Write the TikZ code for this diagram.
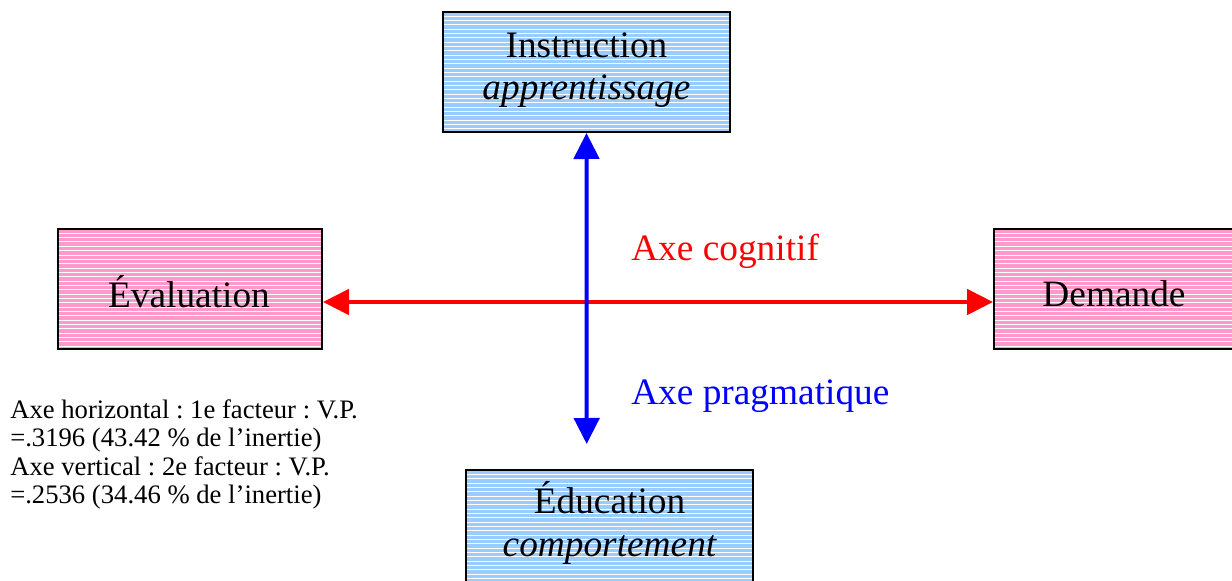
\documentclass[tikz,border=0pt]{standalone}
\usepackage{fontspec}
\setmainfont{Liberation Serif}
\usetikzlibrary{arrows.meta}
\definecolor{boxpink}{HTML}{FF99CC}
\definecolor{boxblue}{HTML}{99CCFF}
\frenchspacing
\begin{document}
\begin{tikzpicture}[x=0.75pt,y=-0.75pt,
  striped/.style={draw=black,line width=1.5pt,inner sep=0pt,
    path picture={\foreach \k in {1,...,40}{\draw[white,line width=0.75pt]
      ([yshift=-\k*3.25pt]path picture bounding box.north west) --
      ([yshift=-\k*3.25pt]path picture bounding box.north east);}}},
  pinkbox/.style={striped,fill=boxpink},
  bluebox/.style={striped,fill=boxblue},
  bigtext/.style={inner sep=0pt,anchor=base,font=\fontsize{28}{31.5}\selectfont},
  smalltext/.style={inner sep=0pt,anchor=base west,font=\fontsize{20}{21}\selectfont},
  axisarrow/.style={line width=3pt,{Triangle[length=19.5pt,width=19pt]}-{Triangle[length=19.5pt,width=19pt]}}
]
\useasboundingbox (0,0) rectangle (1232,581);
% boxes
\node[bluebox,minimum width=215.25pt,minimum height=90pt] (instr) at (586.5,72) {};
\node[pinkbox,minimum width=198pt,minimum height=90pt] (eval) at (190,289) {};
\node[pinkbox,minimum width=180pt,minimum height=90pt] (dem) at (1114,289) {};
\node[bluebox,minimum width=215.25pt,minimum height=90pt] (educ) at (609.5,530) {};
% box texts
\node[bigtext] (t1) at (586.5,58) {Instruction};
\node[bigtext] (t2) at (586.5,100) {\itshape apprentissage};
\node[bigtext] (t3) at (189,307) {Évaluation};
\node[bigtext] (t4) at (1114,306) {Demande};
\node[bigtext] (t5) at (609.5,513) {Éducation};
\node[bigtext] (t6) at (609.5,556) {\itshape comportement};
% axes
\coordinate (hy) at (0,302);
\coordinate (vb) at (586.7,444);
\draw[axisarrow,red] (eval.east |- hy) -- (dem.west |- hy);
\draw[axisarrow,blue] (instr.south) -- (vb);
% axis labels
\node[bigtext,anchor=base west,text=red] (lc) at (631,261) {Axe cognitif};
\node[bigtext,anchor=base west,text=blue] (lp) at (631,404) {Axe pragmatique};
% note
\node[smalltext] (n1) at (10,418) {Axe horizontal : 1e facteur : V.P.};
\node[smalltext] (n2) at (10,446.5) {=.3196 (43.42 \% de l’inertie)};
\node[smalltext] (n3) at (10,475) {Axe vertical : 2e facteur : V.P.};
\node[smalltext] (n4) at (10,503.5) {=.2536 (34.46 \% de l’inertie)};
\end{tikzpicture}
\end{document}
